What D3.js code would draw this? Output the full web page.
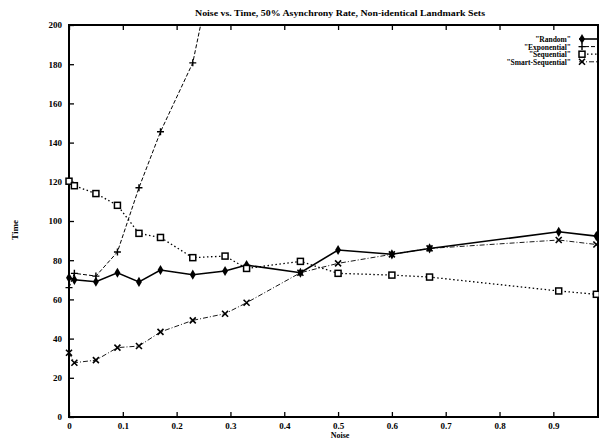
<!DOCTYPE html>
<html>
<head>
<meta charset="utf-8">
<script src="https://cdn.jsdelivr.net/npm/d3@7"></script>
<style>
  body { margin: 0; background: #fff; }
  text { font-family: "Liberation Serif", serif; font-weight: bold; fill: #000; }
</style>
</head>
<body>
<script>
// data
const noise = [0, 0.01, 0.05, 0.09, 0.13, 0.17, 0.23, 0.29, 0.33, 0.43, 0.5, 0.6, 0.67, 0.91, 0.98];
const random      = [71, 70, 69, 73.6, 68.9, 75, 72.6, 74.5, 77.5, 73.6, 85.2, 83, 86, 94.5, 92.3];
const exponential = [66, 73.3, 71.9, 84.2, 117, 145.5, 180.7, 260];
const sequential  = [120.3, 118, 114, 108, 93.7, 91.6, 81.3, 82.1, 75.8, 79.4, 73.3, 72.4, 71.4, 64.3, 62.6];
const smartSeq    = [32.8, 27.7, 29, 35.4, 36.2, 43.4, 49.3, 52.7, 58.3, 73.6, 78.4, 83, 86, 90.3, 88];
const seriesNames = ['"Random"', '"Exponential"', '"Sequential"', '"Smart-Sequential"'];
const xTicks = [0, 0.1, 0.2, 0.3, 0.4, 0.5, 0.6, 0.7, 0.8, 0.9];
const yTicks = [0, 20, 40, 60, 80, 100, 120, 140, 160, 180, 200];

const w = 599, h = 438;
const padL = 69, padR = 598, padT = 25, padB = 417;

const svg = d3.select('body').append('svg')
  .attr('width', w)
  .attr('height', h);

const x = d3.scaleLinear().domain([0, 0.983]).range([padL, padR]);
const y = d3.scaleLinear().domain([0, 200]).range([padB, padT]);

// clip for lines leaving the box
svg.append('clipPath').attr('id', 'clip')
  .append('rect').attr('x', padL).attr('y', padT).attr('width', padR - padL).attr('height', padB - padT);

// frame with inward ticks
svg.append('g').attr('transform', 'translate(0,' + padB + ')')
  .call(d3.axisBottom(x).tickValues(xTicks).tickSize(-5).tickPadding(6).tickFormat(d => d === 0 ? '0' : d3.format('.1f')(d)))
  .call(g => g.select('.domain').remove());
svg.append('g').attr('transform', 'translate(0,' + padT + ')')
  .call(d3.axisTop(x).tickValues(xTicks).tickSize(-5).tickFormat(''))
  .call(g => g.select('.domain').remove());
svg.append('g').attr('transform', 'translate(' + padL + ',0)')
  .call(d3.axisLeft(y).tickValues(yTicks).tickSize(-5).tickPadding(7))
  .call(g => g.select('.domain').remove());

svg.selectAll('.tick line').attr('stroke', '#000').attr('stroke-width', 1.3);
svg.selectAll('.tick text').style('font-size', '9px').style('font-family', '"Liberation Serif", serif').style('font-weight', 'bold');

svg.append('rect')
  .attr('x', padL).attr('y', padT).attr('width', padR - padL).attr('height', padB - padT)
  .attr('fill', 'none').attr('stroke', '#000').attr('stroke-width', 2);

// title and axis labels
svg.append('text')
  .attr('x', 340).attr('y', 16)
  .attr('text-anchor', 'middle')
  .attr('font-size', 8)
  .attr('textLength', 290)
  .attr('lengthAdjust', 'spacingAndGlyphs')
  .text('Noise vs. Time, 50% Asynchrony Rate, Non-identical Landmark Sets');

svg.append('text')
  .attr('x', 340).attr('y', 437.5)
  .attr('text-anchor', 'middle')
  .attr('font-size', 8)
  .text('Noise');

svg.append('text')
  .attr('transform', 'translate(18,230) rotate(-90)')
  .attr('text-anchor', 'middle')
  .attr('font-size', 9)
  .text('Time');

// series
const series = [
  { name: seriesNames[0], values: random,      dash: null,    width: 1.6, marker: 'diamond' },
  { name: seriesNames[1], values: exponential, dash: '4,2',   width: 1,   marker: 'plus' },
  { name: seriesNames[2], values: sequential,  dash: '1.5,2.5', width: 1.3, marker: 'square' },
  { name: seriesNames[3], values: smartSeq,    dash: '5,2,1,2', width: 0.9, marker: 'cross' }
];

const line = d3.line().x(d => x(d[0])).y(d => y(d[1]));

function drawMarker(g, type, cx, cy) {
  if (type === 'diamond') {
    g.append('path').attr('d', d3.symbol(d3.symbolDiamond, 30)()).attr('transform', 'translate(' + cx + ',' + cy + ')').attr('fill', '#000');
  } else if (type === 'plus') {
    g.append('path').attr('d', 'M-3.5,0H3.5M0,-3.5V3.5').attr('transform', 'translate(' + cx + ',' + cy + ')').attr('stroke', '#000').attr('stroke-width', 1.4);
  } else if (type === 'square') {
    g.append('rect').attr('x', cx - 3).attr('y', cy - 3).attr('width', 6).attr('height', 6).attr('fill', '#fff').attr('stroke', '#000').attr('stroke-width', 1.5);
  } else {
    g.append('path').attr('d', 'M-3,-3L3,3M-3,3L3,-3').attr('transform', 'translate(' + cx + ',' + cy + ')').attr('stroke', '#000').attr('stroke-width', 1.6);
  }
}

const plot = svg.append('g').attr('clip-path', 'url(#clip)');
series.forEach(function(s) {
  const pts = s.values.map((v, i) => [noise[i], v]);
  plot.append('path')
    .datum(pts)
    .attr('d', line)
    .attr('fill', 'none')
    .attr('stroke', '#000')
    .attr('stroke-width', s.width)
    .attr('stroke-dasharray', s.dash);
  const mg = svg.append('g');
  pts.filter(p => p[1] <= 200).forEach(p => drawMarker(mg, s.marker, x(p[0]), y(p[1])));
});

// legend
const legend = svg.append('g');
series.forEach(function(s, i) {
  const ly = 39 + i * 7.6;
  legend.append('text')
    .attr('x', 571).attr('y', ly + 3)
    .attr('text-anchor', 'end')
    .attr('font-size', 7.5)
    .text(s.name);
  legend.append('line')
    .attr('x1', 579).attr('x2', 597).attr('y1', ly).attr('y2', ly)
    .attr('stroke', '#000').attr('stroke-width', s.width)
    .attr('stroke-dasharray', s.dash);
  drawMarker(legend, s.marker, 582, ly);
});
</script>
</body>
</html>
